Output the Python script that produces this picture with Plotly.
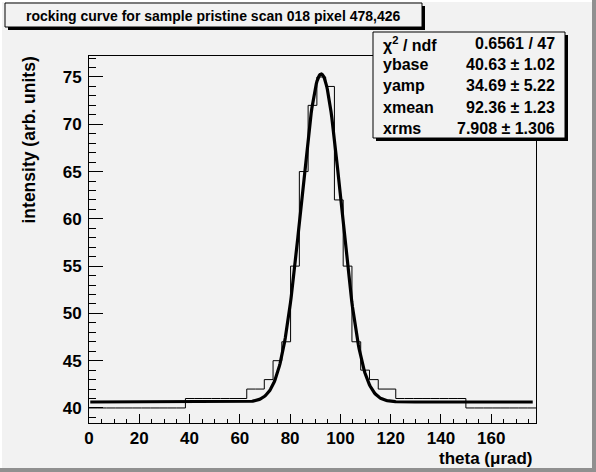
import numpy as np
import plotly.graph_objects as go

# ---------------- data ----------------
x_min, x_max = 0.0, 177.8
y_min, y_max = 38.41, 77.22
n_bins = 51
bin_counts = [40, 40, 40, 40, 40, 40, 40, 40, 40, 40, 40,
              41, 41, 41, 41, 41, 41, 41,
              42, 42, 43, 45, 47, 55, 65, 72, 75, 74, 62, 55, 47, 44, 43, 42, 42,
              41, 41, 41, 41, 41, 41, 41, 41,
              40, 40, 40, 40, 40, 40, 40, 40]

fit_names = ["ybase", "yamp", "xmean", "xrms"]
fit_values = [40.63, 34.69, 92.36, 7.908]
fit_errors = [1.02, 5.22, 1.23, 1.306]
fit_value_text = ["40.63", "34.69", "92.36", "7.908"]
fit_error_text = ["1.02", "5.22", "1.23", "1.306"]
chi2_text = "0.6561 / 47"
fit_x_range = [0.5, 176.5]

x_ticks = [0, 20, 40, 60, 80, 100, 120, 140, 160]
y_ticks = [40, 45, 50, 55, 60, 65, 70, 75]

title_text = "rocking curve for sample pristine scan 018 pixel 478,426"
x_title = "theta (\u03bcrad)"
y_title = "intensity (arb. units)"

# ---------------- geometry ----------------
W, H = 596, 472
ML, MR, MT, MB = 89, 60, 56, 49
PW, PH = W - ML - MR, H - MT - MB
BG = "#f2f2f2"
FONT = "Liberation Sans"


def px(xp):
    return (xp - ML) / PW


def py(yp):
    return (H - MB - yp) / PH


edges = np.linspace(x_min, x_max, n_bins + 1)
hx = list(edges)
hy = list(bin_counts) + [bin_counts[-1]]

ybase, yamp, xmean, xrms = fit_values
fx = np.linspace(fit_x_range[0], fit_x_range[1], 600)
fy = ybase + yamp * np.exp(-0.5 * ((fx - xmean) / xrms) ** 2)

fig = go.Figure()
fig.add_trace(go.Scatter(x=hx, y=hy, mode="lines", line=dict(shape="hv", color="black", width=1),
                         hoverinfo="skip", showlegend=False))
fig.add_trace(go.Scatter(x=fx, y=fy, mode="lines", line=dict(color="black", width=3.2),
                         hoverinfo="skip", showlegend=False))

axis_common = dict(showgrid=False, zeroline=False, showline=True, linecolor="black", linewidth=1,
                   mirror=True, ticks="inside", tickcolor="black", tickwidth=1,
                   tickfont=dict(family=FONT, size=17, color="black", weight="bold"))

fig.update_xaxes(range=[x_min, x_max], tickvals=x_ticks, ticklen=9,
                 minor=dict(ticks="inside", dtick=5, tick0=0, ticklen=4.5, tickcolor="black", tickwidth=1),
                 ticklabelstandoff=0, **axis_common)
fig.update_yaxes(range=[y_min, y_max], tickvals=y_ticks, ticklen=14,
                 minor=dict(ticks="inside", dtick=1, tick0=40, ticklen=7, tickcolor="black", tickwidth=1),
                 ticklabelstandoff=3, **axis_common)

shapes = []
# canvas bevel border
shapes.append(dict(type="rect", xref="paper", yref="paper", x0=px(0), x1=px(W), y0=py(0), y1=py(2),
                   fillcolor="white", line_width=0, layer="above"))
shapes.append(dict(type="rect", xref="paper", yref="paper", x0=px(0), x1=px(2), y0=py(0), y1=py(H),
                   fillcolor="white", line_width=0, layer="above"))
shapes.append(dict(type="rect", xref="paper", yref="paper", x0=px(0), x1=px(W), y0=py(H - 4), y1=py(H),
                   fillcolor="#909090", line_width=0, layer="above"))
shapes.append(dict(type="rect", xref="paper", yref="paper", x0=px(W - 4), x1=px(W), y0=py(0), y1=py(H),
                   fillcolor="#909090", line_width=0, layer="above"))


def pave(x0, y0, x1, y1):
    # shadow then box
    shapes.append(dict(type="rect", xref="paper", yref="paper", x0=px(x0 + 3), x1=px(x1 + 3),
                       y0=py(y1 + 3), y1=py(y0 + 3), fillcolor="black", line_width=0, layer="above"))
    shapes.append(dict(type="rect", xref="paper", yref="paper", x0=px(x0), x1=px(x1),
                       y0=py(y1), y1=py(y0), fillcolor=BG, line=dict(color="black", width=1), layer="above"))


pave(5, 3, 422, 27)
pave(373, 32, 565, 138)
fig.update_layout(shapes=shapes)

ann = []
ann.append(dict(x=px(213.5), y=py(15.5), xref="paper", yref="paper", text="<b>%s</b>" % title_text,
                showarrow=False, xanchor="center", yanchor="middle",
                font=dict(family=FONT, size=14, color="black")))

rows_lab = ["\u03c7<sup>2</sup> / ndf"] + fit_names
rows_val = [chi2_text] + ["%s \u00b1 %s" % (v, e) for v, e in zip(fit_value_text, fit_error_text)]
row_y0, row_h = 43.5, 21.2
for i, (lab, val) in enumerate(zip(rows_lab, rows_val)):
    yy = row_y0 + i * row_h
    ann.append(dict(x=px(381), y=py(yy), xref="paper", yref="paper", text="<b>%s</b>" % lab,
                    showarrow=False, xanchor="left", yanchor="middle",
                    font=dict(family=FONT, size=16, color="black")))
    ann.append(dict(x=px(557), y=py(yy), xref="paper", yref="paper", text="<b>%s</b>" % val,
                    showarrow=False, xanchor="right", yanchor="middle",
                    font=dict(family=FONT, size=16, color="black")))

ann.append(dict(x=px(535), y=py(458), xref="paper", yref="paper", text="<b>%s</b>" % x_title,
                showarrow=False, xanchor="right", yanchor="middle",
                font=dict(family=FONT, size=17, color="black")))
ann.append(dict(x=px(28), y=py(55), xref="paper", yref="paper", text="<b>%s</b>" % y_title,
                showarrow=False, xanchor="center", yanchor="top", textangle=-90,
                font=dict(family=FONT, size=17.5, color="black")))
fig.update_layout(annotations=ann)

fig.update_layout(width=W, height=H, margin=dict(l=ML, r=MR, t=MT, b=MB, pad=0),
                  paper_bgcolor=BG, plot_bgcolor=BG, showlegend=False)

fig.write_html("out.html", include_plotlyjs=True, config={"displayModeBar": False},
               post_script="document.body.style.margin='0';document.body.style.padding='0';"
                           "document.body.style.overflow='hidden';document.body.style.background='%s';" % BG)
